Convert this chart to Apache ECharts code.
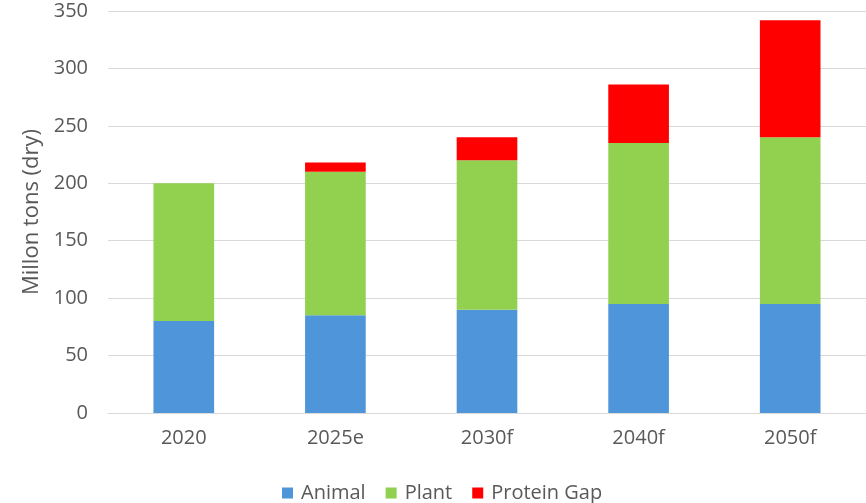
<!DOCTYPE html>
<html lang="en">
<head>
	<meta charset="UTF-8">
	<title>Protein demand</title>
	<style>
		html, body { margin: 0; padding: 0; background: #fff; }
	</style>
</head>
<body>
	<div id='main' style="width:866px;height:503px;"></div>
</body>
<script src="https://cdn.jsdelivr.net/npm/echarts@6/dist/echarts.min.js"></script>
<script type="text/javascript">
var years = ['2020', '2025e', '2030f', '2040f', '2050f'];
var animal = [80, 85, 90, 95, 95];
var plant = [120, 125, 130, 140, 145];
var proteinGap = [0, 8, 20, 51, 102];

var textColor = '#595959';
var fontName = 'Open Sans';

var option = {
    animation: false,
    textStyle: { fontFamily: fontName },
    legend: {
        bottom: -5,
        left: 277,
        itemWidth: 11,
        itemHeight: 11,
        itemGap: 20,
        icon: 'rect',
        textStyle: { color: textColor, fontSize: 20, fontFamily: fontName, padding: [0, 0, 0, 3] },
        data: ['Animal', 'Plant', 'Protein Gap']
    },
    grid: {
        left: 108,
        right: 0,
        top: 11,
        bottom: 90
    },
    xAxis: {
        type: 'category',
        data: years,
        axisTick: { show: false },
        axisLine: { lineStyle: { color: '#d9d9d9', width: 1 } },
        axisLabel: { color: textColor, fontSize: 20, margin: 15 }
    },
    yAxis: {
        type: 'value',
        min: 0,
        max: 350,
        interval: 50,
        name: 'Millon tons (dry)',
        nameLocation: 'middle',
        nameGap: 65,
        nameTextStyle: { color: textColor, fontSize: 22 },
        axisLabel: { color: textColor, fontSize: 20, margin: 20 },
        splitLine: { lineStyle: { color: '#d9d9d9', width: 1 } }
    },
    series: [
        {
            name: 'Animal',
            type: 'bar',
            stack: 'total',
            barWidth: '40%',
            itemStyle: { color: '#4f95d9' },
            data: animal
        },
        {
            name: 'Plant',
            type: 'bar',
            stack: 'total',
            itemStyle: { color: '#92d050' },
            data: plant
        },
        {
            name: 'Protein Gap',
            type: 'bar',
            stack: 'total',
            itemStyle: { color: '#ff0000' },
            data: proteinGap
        }
    ]
};

var myChart = echarts.init(document.getElementById('main'));
myChart.setOption(option);
</script>
</html>
